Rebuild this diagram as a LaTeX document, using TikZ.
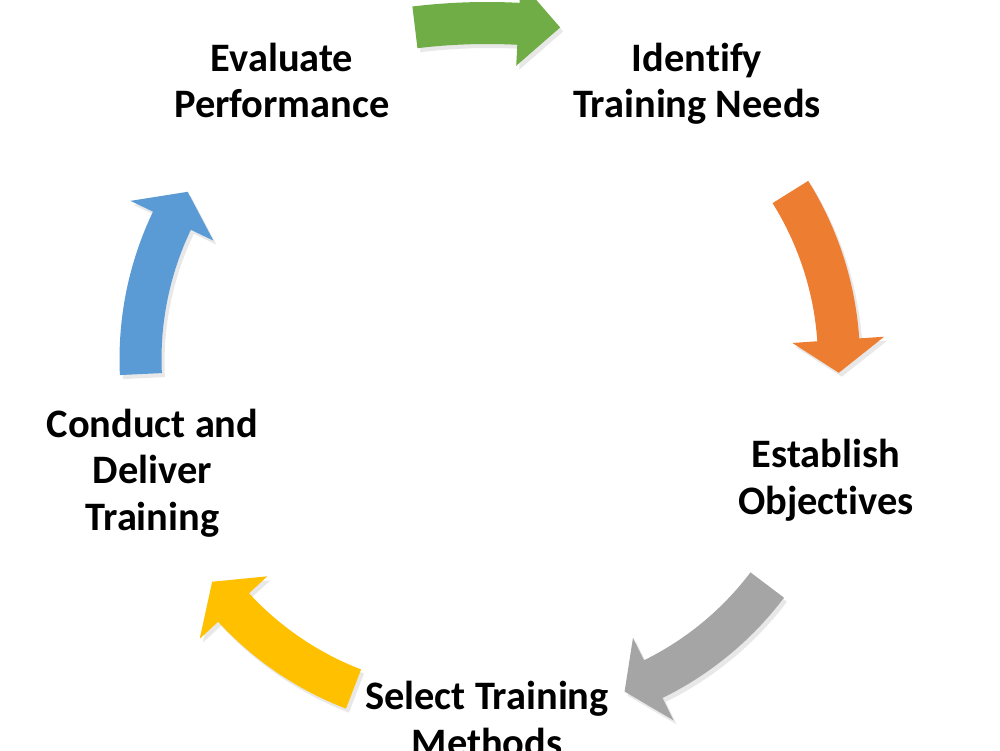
\documentclass[tikz,border=0pt]{standalone}
\usepackage{fontspec}
\setmainfont{Carlito}[Ligatures=NoCommon]
\usepackage{xcolor}
\usepackage{tikz}
\usetikzlibrary{shadows}
\definecolor{leaf}{HTML}{70AD47}
\definecolor{tang}{HTML}{ED7D31}
\definecolor{ash}{HTML}{A5A5A5}
\definecolor{gold}{HTML}{FFC000}
\definecolor{sky}{HTML}{5B9BD5}
\tikzset{steptext/.style={font=\bfseries\fontsize{11.5}{13.1}\selectfont,align=center,anchor=base,inner sep=0pt}}
\newcommand{\cyclearrow}[7]{\begin{scope}[shift={(#2)}]
\fill[#1,drop shadow={opacity=0.18,shadow xshift=0.03,shadow yshift=-0.04}] (#4:#3+0.21) arc[start angle=#4,end angle=#5,radius=#3+0.21] -- (#5:#3+#7) -- (#6:#3) -- (#5:#3-#7) -- (#5:#3-0.21) arc[start angle=#5,end angle=#4,radius=#3-0.21] -- cycle;
\end{scope}}

\begin{document}
\begin{tikzpicture}
\useasboundingbox (0,0) rectangle (10,7.5);
\fill[white] (0,0) rectangle (10,7.5);
\cyclearrow{leaf}{4.87,1.27}{6}{96.9}{87}{83}{0.42}
\cyclearrow{tang}{5.19,3.884}{3.2}{32}{3.9}{-2}{0.46}
\cyclearrow{ash}{5.12,3.58}{3.2}{-37.1}{-63.8}{-69.4}{0.46}
\cyclearrow{gold}{4.687,3.595}{3.2}{-111.1}{-137.3}{-143.3}{0.46}
\cyclearrow{sky}{4.605,3.91}{3.2}{182.7}{154.4}{148.5}{0.46}
\node[steptext] (eval) at (2.82,6.32) {Evaluate\\Performance};
\node[steptext] (ident) at (6.97,6.32) {Identify\\Training Needs};
\node[steptext] (estab) at (8.26,2.36) {Establish\\Objectives};
\node[steptext] (select) at (4.87,-0.06) {Select Training\\Methods};
\node[steptext] (conduct) at (1.525,2.20) {Conduct and\\Deliver\\Training};
\end{tikzpicture}
\end{document}
